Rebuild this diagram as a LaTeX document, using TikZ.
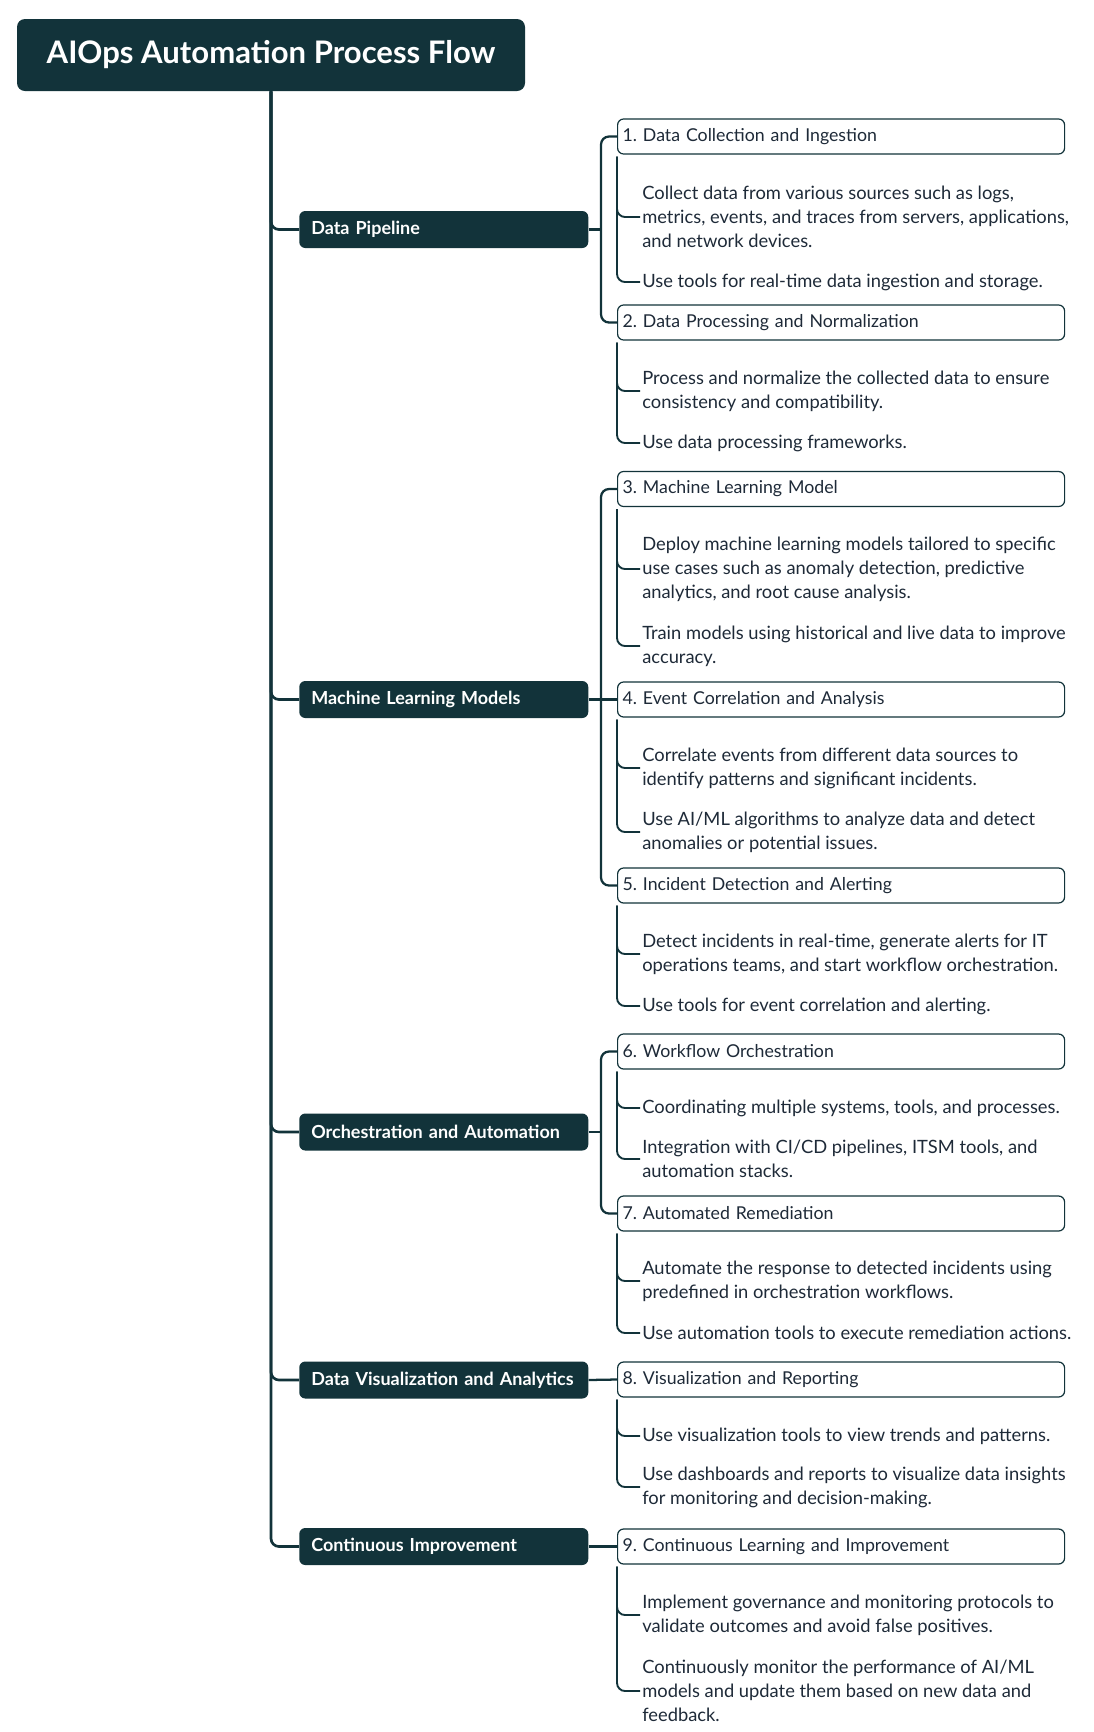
\documentclass[tikz,border=0pt]{standalone}
\usepackage{fontspec}
\setmainfont{Lato}
\definecolor{dark}{HTML}{12333A}
\definecolor{ink}{HTML}{1E2A38}
\frenchspacing
\begin{document}
\begin{tikzpicture}[x=0.75pt,y=-0.75pt,
  titlebox/.style={fill=dark, rounded corners=6pt, minimum width=381pt, minimum height=54pt, text=white, font=\bfseries\fontsize{23.3}{26}\selectfont, inner sep=0pt},
  l1box/.style={fill=dark, rounded corners=4.5pt, minimum width=216.75pt, minimum height=27.75pt, text width=198.75pt, align=left, inner xsep=9pt, inner ysep=0pt, text=white, font=\bfseries\fontsize{13.5}{15}\selectfont, anchor=west},
  l2box/.style={draw=dark, line width=0.9pt, fill=white, rounded corners=4.5pt, minimum width=335.25pt, minimum height=26.25pt, text width=327.75pt, align=left, inner xsep=3.75pt, inner ysep=0pt, text=ink, font=\fontsize{13.3}{15}\selectfont, anchor=west},
  leaf/.style={anchor=west, align=left, inner xsep=1.5pt, inner ysep=0pt, text=ink, font=\fontsize{13.75}{18}\selectfont},
  trunk/.style={draw=dark, line width=2pt, rounded corners=6pt},
  branch/.style={draw=dark, line width=1.7pt, rounded corners=6pt},
  leafline/.style={draw=dark, line width=1.4pt, rounded corners=6pt},
]
\fill[white] (0,0) rectangle (1094,1732);
\useasboundingbox (0,0) rectangle (1094,1732);

% title
\node[titlebox] (title) at (271,55) {AIOps Automation Process Flow};

% level 1
\node[l1box] (dp) at (299,229.5) {Data Pipeline};
\node[l1box] (ml) at (299,699.5) {Machine Learning Models};
\node[l1box] (oa) at (299,1132) {Orchestration and Automation};
\node[l1box] (dv) at (299,1380) {Data Visualization and Analytics};
\node[l1box] (ci) at (299,1546.5) {Continuous Improvement};

% level 2
\node[l2box] (b1) at (617,136.5) {1. Data Collection and Ingestion};
\node[l2box] (b2) at (617,322.5) {2. Data Processing and Normalization};
\node[l2box] (b3) at (617,489) {3. Machine Learning Model};
\node[l2box] (b4) at (617,699.5) {4. Event Correlation and Analysis};
\node[l2box] (b5) at (617,885.5) {5. Incident Detection and Alerting};
\node[l2box] (b6) at (617,1051.5) {6. Workflow Orchestration};
\node[l2box] (b7) at (617,1213.5) {7. Automated Remediation};
\node[l2box] (b8) at (617,1379.5) {8. Visualization and Reporting};
\node[l2box] (b9) at (617,1546.5) {9. Continuous Learning and Improvement};

% leaves
\node[leaf] (l1a) at (640,217) {Collect data from various sources such as logs,\\metrics, events, and traces from servers, applications,\\and network devices.};
\node[leaf] (l1b) at (640,282) {Use tools for real-time data ingestion and storage.};
\node[leaf] (l2a) at (640,391) {Process and normalize the collected data to ensure\\consistency and compatibility.};
\node[leaf] (l2b) at (640,443) {Use data processing frameworks.};
\node[leaf] (l3a) at (640,569) {Deploy machine learning models tailored to specific\\use cases such as anomaly detection, predictive\\analytics, and root cause analysis.};
\node[leaf] (l3b) at (640,646) {Train models using historical and live data to improve\\accuracy.};
\node[leaf] (l4a) at (640,768) {Correlate events from different data sources to\\identify patterns and significant incidents.};
\node[leaf] (l4b) at (640,832) {Use AI/ML algorithms to analyze data and detect\\anomalies or potential issues.};
\node[leaf] (l5a) at (640,954) {Detect incidents in real-time, generate alerts for IT\\operations teams, and start workflow orchestration.};
\node[leaf] (l5b) at (640,1006) {Use tools for event correlation and alerting.};
\node[leaf] (l6a) at (640,1108) {Coordinating multiple systems, tools, and processes.};
\node[leaf] (l6b) at (640,1159) {Integration with CI/CD pipelines, ITSM tools, and\\automation stacks.};
\node[leaf] (l7a) at (640,1281) {Automate the response to detected incidents using\\predefined in orchestration workflows.};
\node[leaf] (l7b) at (640,1333) {Use automation tools to execute remediation actions.};
\node[leaf] (l8a) at (640,1436) {Use visualization tools to view trends and patterns.};
\node[leaf] (l8b) at (640,1487) {Use dashboards and reports to visualize data insights\\for monitoring and decision-making.};
\node[leaf] (l9a) at (640,1615) {Implement governance and monitoring protocols to\\validate outcomes and avoid false positives.};
\node[leaf] (l9b) at (640,1691) {Continuously monitor the performance of AI/ML\\models and update them based on new data and\\feedback.};

% trunk
\draw[trunk] (title.south) |- (dp.west);
\draw[trunk] (title.south) |- (ml.west);
\draw[trunk] (title.south) |- (oa.west);
\draw[trunk] (title.south) |- (dv.west);
\draw[trunk] (title.south) |- (ci.west);

% branches
\coordinate (j1) at (601,229.5);
\coordinate (j2) at (601,699.5);
\coordinate (j3) at (601,1132);
\draw[branch] (dp.east) -- (j1);
\draw[branch] (b1.west) -| (j1) |- (b2.west);
\draw[branch] (ml.east) -- (b4.west);
\draw[branch] (b3.west) -| (j2) |- (b5.west);
\draw[branch] (oa.east) -- (j3);
\draw[branch] (b6.west) -| (j3) |- (b7.west);
\draw[branch] (dv.east) -- (b8.west);
\draw[branch] (ci.east) -- (b9.west);

% leaf lines
\foreach \b/\l in {b1/l1a,b1/l1b,b2/l2a,b2/l2b,b3/l3a,b3/l3b,b4/l4a,b4/l4b,b5/l5a,b5/l5b,b6/l6a,b6/l6b,b7/l7a,b7/l7b,b8/l8a,b8/l8b,b9/l9a,b9/l9b}
  \draw[leafline] ([yshift=-1.5pt]\b.south west) |- (\l.west);
\end{tikzpicture}
\end{document}
